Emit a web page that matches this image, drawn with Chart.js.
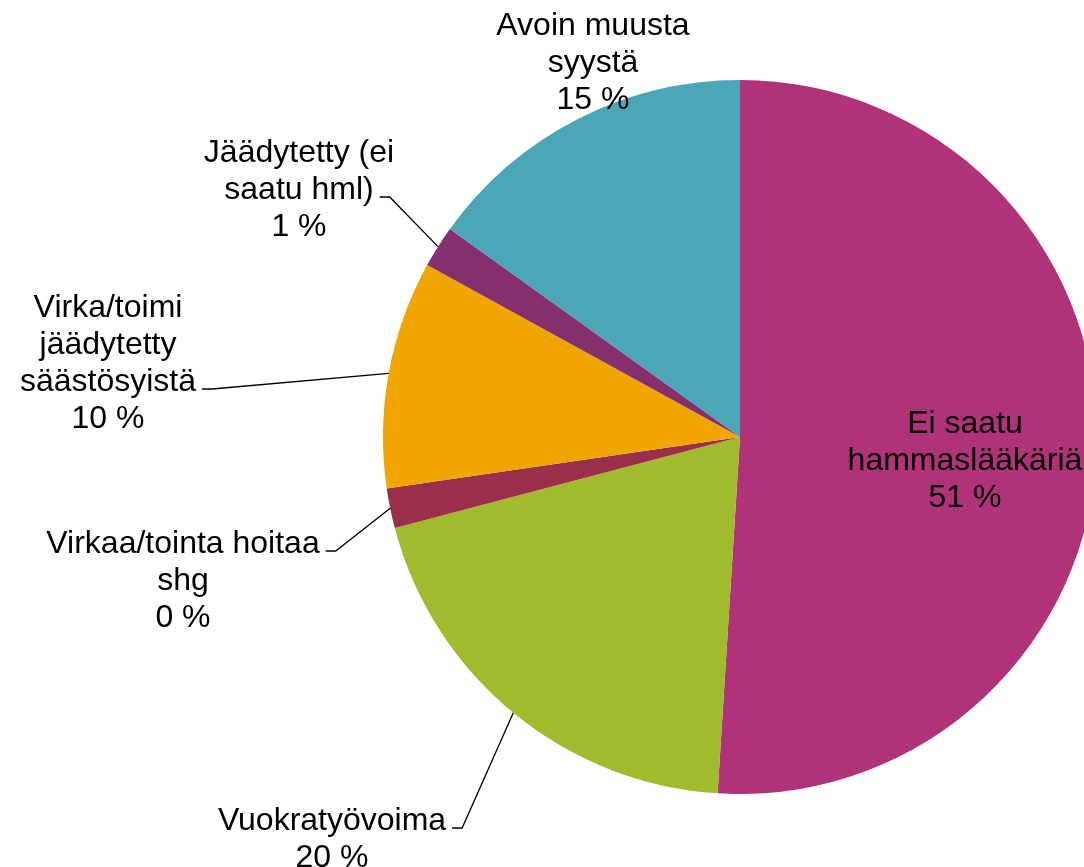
<!DOCTYPE html>
<html>
<head>
<meta charset="utf-8">
<script src="https://cdn.jsdelivr.net/npm/chart.js@4.4.1/dist/chart.umd.min.js"></script>
<style>
  html, body { margin: 0; padding: 0; background: #fff; overflow: hidden; }
  #wrap { width: 1084px; height: 867px; overflow: hidden; }
  canvas { display: block; }
</style>
</head>
<body>
<div id="wrap"><canvas id="pieChart" width="1200" height="867"></canvas></div>
<script>
// slices clockwise from 12 o'clock
const categories = [
  'Ei saatu hammaslääkäriä',
  'Vuokratyövoima',
  'Virkaa/tointa hoitaa shg',
  'Virka/toimi jäädytetty säästösyistä',
  'Jäädytetty (ei saatu hml)',
  'Avoin muusta syystä'
];
const shares = [51.0, 19.9, 1.8, 10.3, 1.9, 15.1];
const percentLabels = ['51 %', '20 %', '0 %', '10 %', '1 %', '15 %'];
const sliceColors = ['#B03279', '#A0BB2B', '#9B2E4B', '#F0A500', '#84306C', '#4BA7B8'];

// label placement relative to pie centre (px), wrap width, which line gets the leader
const labelSpots = [
  { dx: 225, dy: -4, wrap: 240 },
  { dx: -408, dy: 393, wrap: 300, leader: 0 },
  { dx: -557, dy: 116, wrap: 290, leader: 0 },
  { dx: -632, dy: -120, wrap: 190, leader: 2 },
  { dx: -441, dy: -275, wrap: 220, leader: 1 },
  { dx: -147, dy: -402, wrap: 240 }
];
const LINE_H = 37;

function wrapText(ctx, text, maxW) {
  const words = text.split(' ');
  const out = [];
  let cur = '';
  words.forEach(w => {
    const test = cur ? cur + ' ' + w : w;
    if (cur && ctx.measureText(test).width > maxW) {
      out.push(cur);
      cur = w;
    } else {
      cur = test;
    }
  });
  if (cur) out.push(cur);
  return out;
}

const sliceLabels = {
  id: 'sliceLabels',
  afterDatasetsDraw(chart) {
    const ctx = chart.ctx;
    const arcs = chart.getDatasetMeta(0).data;
    ctx.save();
    ctx.font = '32px "Liberation Sans", Arial, sans-serif';
    ctx.fillStyle = '#000';
    ctx.strokeStyle = '#000';
    ctx.lineWidth = 1.3;
    ctx.textAlign = 'center';
    ctx.textBaseline = 'alphabetic';
    arcs.forEach((arc, i) => {
      const p = arc.getProps(['x', 'y', 'startAngle', 'endAngle', 'outerRadius'], true);
      const spot = labelSpots[i];
      const lines = wrapText(ctx, categories[i], spot.wrap).concat(percentLabels[i]);
      const cx = p.x + spot.dx;
      const top = p.y + spot.dy;
      lines.forEach((ln, k) => ctx.fillText(ln, cx, top + k * LINE_H));
      if (spot.leader !== undefined) {
        const mid = (p.startAngle + p.endAngle) / 2;
        const ex = p.x + p.outerRadius * Math.cos(mid);
        const ey = p.y + p.outerRadius * Math.sin(mid);
        const ly = top + spot.leader * LINE_H - 2;
        const lx = cx + ctx.measureText(lines[spot.leader]).width / 2 + 6;
        ctx.beginPath();
        ctx.moveTo(lx, ly);
        ctx.lineTo(lx + 10, ly);
        ctx.lineTo(ex, ey);
        ctx.stroke();
      }
    });
    ctx.restore();
  }
};

new Chart(document.getElementById('pieChart'), {
  type: 'pie',
  data: {
    labels: categories,
    datasets: [{
      data: shares,
      backgroundColor: sliceColors,
      borderWidth: 0,
      hoverOffset: 0
    }]
  },
  options: {
    responsive: false,
    animation: false,
    events: [],
    layout: { padding: { left: 383, right: 103, top: 80, bottom: 73 } },
    plugins: {
      legend: { display: false },
      tooltip: { enabled: false }
    }
  },
  plugins: [sliceLabels]
});
</script>
</body>
</html>
